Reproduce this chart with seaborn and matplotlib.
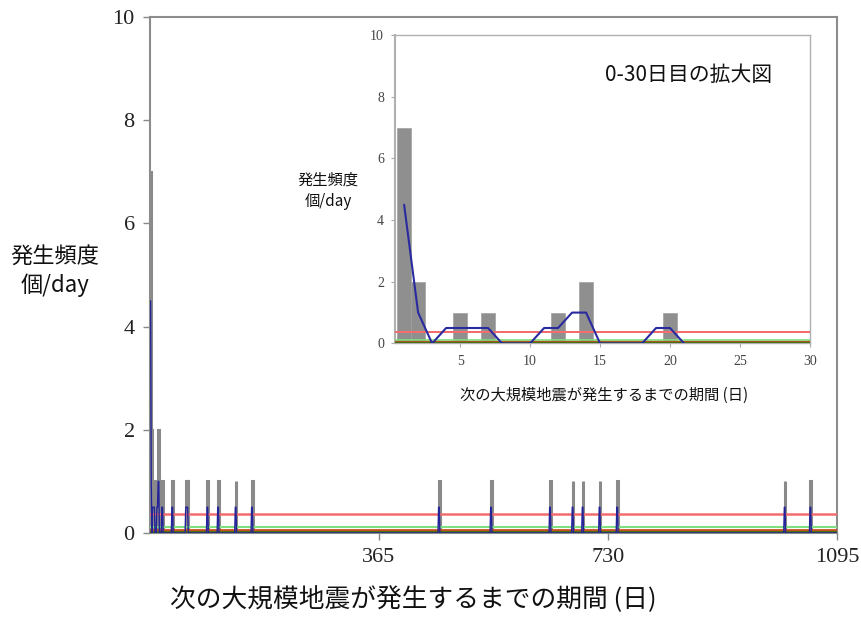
import matplotlib
matplotlib.use('Agg')
import matplotlib.pyplot as plt
import seaborn as sns

# event counts per day (days until next large earthquake)
event_days = [1, 2, 5, 7, 12, 14, 20, 36, 58, 60, 92, 109, 137, 163,
              461, 544, 638, 674, 690, 717, 745, 1012, 1053]
event_counts = [7, 2, 1, 1, 1, 2, 1, 1, 1, 1, 1, 1, 1, 1,
                1, 1, 1, 1, 1, 1, 1, 1, 1]

# blue smoothed line (breakpoints)
blue_x = [1, 2, 3, 4, 7, 8, 10, 11, 12, 13, 14, 15, 18, 19, 20, 21,
          34, 35, 36, 37, 56, 57, 60, 61, 90, 91, 92, 93,
          107, 108, 109, 110, 135, 136, 137, 138, 161, 162, 163, 164,
          459, 460, 461, 462, 542, 543, 544, 545, 636, 637, 638, 639,
          672, 673, 674, 675, 688, 689, 690, 691, 715, 716, 717, 718,
          743, 744, 745, 746, 1010, 1011, 1012, 1013, 1051, 1052, 1053, 1054, 1095]
blue_y = [4.5, 1, 0, 0.5, 0.5, 0, 0, 0.5, 0.5, 1, 1, 0, 0, 0.5, 0.5, 0,
          0, 0.5, 0.5, 0, 0, 0.5, 0.5, 0, 0, 0.5, 0.5, 0,
          0, 0.5, 0.5, 0, 0, 0.5, 0.5, 0, 0, 0.5, 0.5, 0,
          0, 0.5, 0.5, 0, 0, 0.5, 0.5, 0, 0, 0.5, 0.5, 0,
          0, 0.5, 0.5, 0, 0, 0.5, 0.5, 0, 0, 0.5, 0.5, 0,
          0, 0.5, 0.5, 0, 0, 0.5, 0.5, 0, 0, 0.5, 0.5, 0, 0]

# reference levels (horizontal lines)
ref_levels = [0.36, 0.12, 0.05, 0.02]
ref_colors = ['#f26d6d', '#7ee07e', '#c8501e', '#4a6e14']
ref_widths = [1.8, 1.5, 2.0, 2.2]

main_xticks = [365, 730, 1095]
inset_xticks = [5, 10, 15, 20, 25, 30]
yticks = [0, 2, 4, 6, 8, 10]

sns.set_theme(style='white')
plt.rcParams['font.family'] = ['Noto Sans CJK JP', 'DejaVu Sans']
serif = ['Liberation Serif', 'DejaVu Serif']

fig = plt.figure(figsize=(8.61, 6.21), dpi=100)
ax = fig.add_axes([0.1742, 0.1417, 0.798, 0.831])

sns.barplot(x=event_days, y=event_counts, native_scale=True, width=1,
            color='#8a8a8a', edgecolor='#8a8a8a', linewidth=2.2,
            errorbar=None, ax=ax, zorder=2)
for v, c, w in zip(ref_levels, ref_colors, ref_widths):
    ax.axhline(v, color=c, lw=w, zorder=3)
sns.lineplot(x=blue_x, y=blue_y, color='#24249a', lw=1.0, ax=ax, zorder=4)

ax.set_xlim(0, 1095)
ax.set_ylim(0, 10)
ax.set_xticks(main_xticks)
ax.set_xticklabels([str(t) for t in main_xticks], family=serif, fontsize=16, color='#222222')
ax.set_yticks(yticks)
ax.set_yticklabels([str(t) for t in yticks], family=serif, fontsize=16, color='#222222')
ax.tick_params(axis='both', direction='out', length=5, width=1, color='#888888',
               bottom=True, left=True, pad=6)
for s in ax.spines.values():
    s.set_color('#8c8c8c')
    s.set_linewidth(1.5)
ax.set_xlabel('次の大規模地震が発生するまでの期間 (日)', fontsize=18.5, color='#111111',
              va='center')
ax.xaxis.set_label_coords(0.383, -0.13)
ax.set_ylabel('発生頻度\n個/day', fontsize=16, rotation=0, color='#111111',
              ha='center', va='center', linespacing=1.3)
ax.yaxis.set_label_coords(-0.138, 0.508)

# inset: 0-30 days
ins = fig.add_axes([0.4588, 0.447, 0.482, 0.4965])
ins.set_facecolor('white')
in_days = [d for d in event_days if d <= 30]
in_counts = [c for d, c in zip(event_days, event_counts) if d <= 30]
sns.barplot(x=in_days, y=in_counts, native_scale=True, width=1,
            color='#8f8f8f', edgecolor='#a0a0a0', linewidth=0.5,
            errorbar=None, ax=ins, zorder=2)
for v, c, w in zip(ref_levels, ref_colors, ref_widths):
    ins.axhline(v, color=c, lw=w * 0.8, zorder=3)
in_bx = [x for x in blue_x if x <= 30]
in_by = [y for x, y in zip(blue_x, blue_y) if x <= 30]
sns.lineplot(x=in_bx, y=in_by, color='#2a2aa0', lw=1.5, ax=ins, zorder=4)

ins.set_xlim(0.35, 30)
ins.set_ylim(0, 10)
ins.set_xticks(inset_xticks)
ins.set_xticklabels([str(t) for t in inset_xticks], family=serif, fontsize=10, color='#444444')
ins.set_yticks(yticks)
ins.set_yticklabels([str(t) for t in yticks], family=serif, fontsize=10, color='#444444')
ins.tick_params(axis='both', direction='out', length=3, width=0.8, color='#aaaaaa',
                bottom=True, left=True, pad=5)
for s in ins.spines.values():
    s.set_color('#b0b0b0')
    s.set_linewidth(1.0)
ins.spines['left'].set_linewidth(1.5)
ins.set_xlabel('次の大規模地震が発生するまでの期間 (日)', fontsize=11, color='#111111')
ins.xaxis.set_label_coords(0.504, -0.142)
ins.set_ylabel('発生頻度\n個/day', fontsize=11, rotation=0, color='#111111',
               ha='center', va='center', linespacing=1.3)
ins.yaxis.set_label_coords(-0.161, 0.494)
ins.text(0.708, 0.87, '0-30日目の拡大図', transform=ins.transAxes, fontsize=15,
         ha='center', va='center', color='#111111')

fig.savefig('out.png', dpi=100)
